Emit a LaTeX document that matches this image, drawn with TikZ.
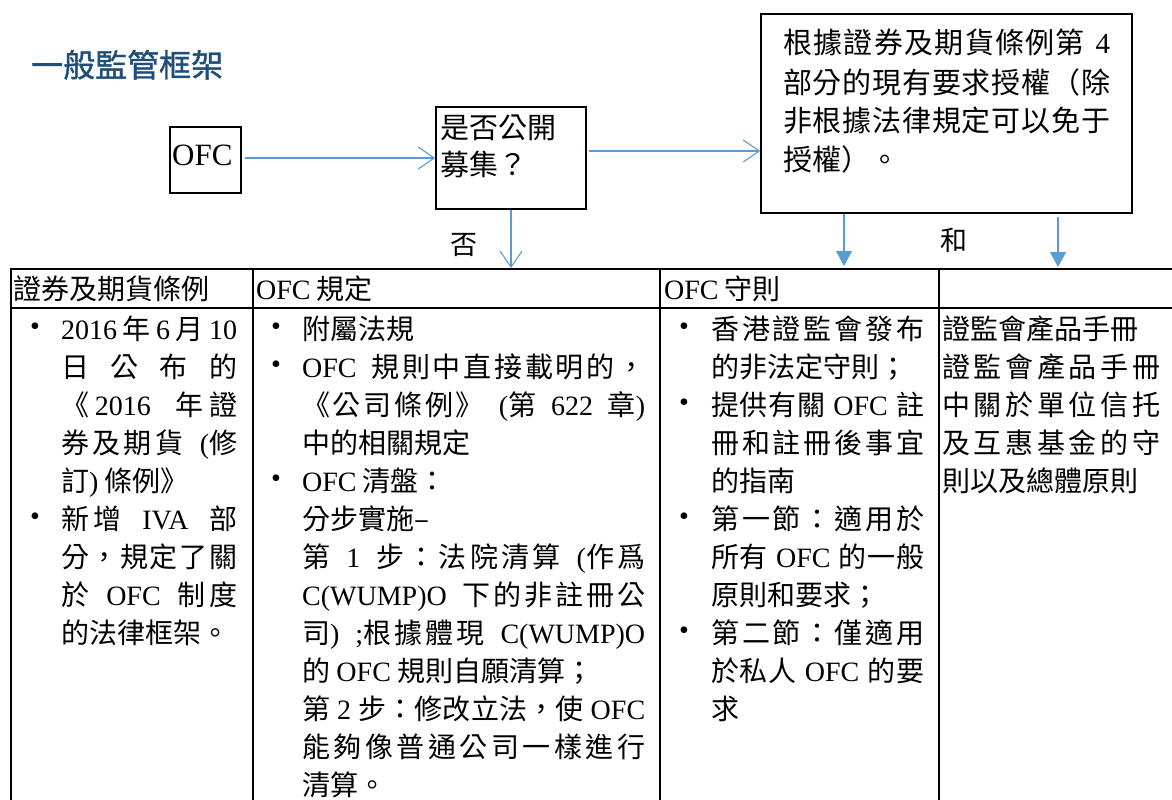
\documentclass[tikz,border=0pt]{standalone}
\usepackage{fontspec}
\setmainfont{Noto Sans CJK TC}
\newfontfamily\tmfont{Liberation Serif}
\newfontfamily\titlefont[FakeBold=1.2]{Noto Sans CJK TC}
\newcommand\tm[1]{{\tmfont #1}}
\usetikzlibrary{arrows.meta}
\XeTeXinterchartokenstate=1
\newXeTeXintercharclass\CJKcls
\makeatletter
\def\setcjkrange#1#2{\count@=#1\relax\loop\XeTeXcharclass\count@=\CJKcls\relax\ifnum\count@<#2\relax\advance\count@ by 1\repeat}
\makeatother
\setcjkrange{"3000}{"303F}
\setcjkrange{"4E00}{"9FFF}
\setcjkrange{"FF00}{"FFEF}
\XeTeXinterchartoks\CJKcls\CJKcls={\hskip 0pt plus 1pt\relax}
\newcommand\sg{\hskip 0pt plus 1pt\relax}
\definecolor{titleblue}{HTML}{1F4E79}
\definecolor{arrowblue}{HTML}{5B9BD5}
\tikzset{
  box/.style={draw, line width=1.6pt, inner sep=0pt},
  txt/.style={anchor=base west, inner sep=0pt, font=\fontsize{28}{34}\selectfont},
  bul/.style={anchor=center, inner sep=0pt, font=\fontsize{28}{34}\selectfont},
  arr/.style={draw=arrowblue, line width=1.3pt},
  openarr/.style={arr, -{Straight Barb[length=16pt,width=22pt,line width=1.1pt]}},
  fillarr/.style={arr, -{Triangle[length=15pt,width=16pt]}},
  gridline/.style={line width=1.8pt},
}
\newcommand\Jl[5]{\node[txt] (#1) at (#2,#3) {\makebox[#4][s]{#5}};}
\newcommand\Nl[4]{\node[txt] (#1) at (#2,#3) {#4};}
\newcommand\Bul[3]{\node[bul] (#1) at (#2,#3) {\tm{•}};}
\begin{document}
\begin{tikzpicture}[x=1pt,y=-1pt]
\useasboundingbox (0,0) rectangle (1172,800);
% title
\node[anchor=base west, inner sep=0pt, font=\titlefont\fontsize{32}{36}\selectfont, text=titleblue] (title) at (31,77) {一般監管框架};
% boxes
\node[box, minimum width=71pt, minimum height=66pt] (ofc) at (205.5,160) {};
\node[anchor=base west, inner sep=0pt, font=\tmfont\fontsize{31}{34}\selectfont] (ofct) at (172,165) {OFC};
\node[box, minimum width=150pt, minimum height=102pt] (pub) at (511,158) {};
\node[txt, font=\fontsize{29}{34}\selectfont] (pub1) at (440,138) {是否公開};
\node[txt, font=\fontsize{29}{34}\selectfont] (pub2) at (440,175) {募集？};
\node[box, minimum width=371pt, minimum height=199pt] (auth) at (946.5,113.5) {};
\begin{scope}[txt/.append style={font=\fontsize{29}{34}\selectfont}]
\Jl{au1}{783}{54}{327pt}{根據證券及期貨條例第 \tm{4}}
\Jl{au2}{783}{93}{327pt}{部分的現有要求授權（除}
\Jl{au3}{783}{131}{327pt}{非根據法律規定可以免于}
\Nl{au4}{783}{170}{授權）。}
\end{scope}
% labels
\node[txt, font=\fontsize{27}{32}\selectfont] (no) at (450,254) {否};
\node[txt, font=\fontsize{27}{32}\selectfont] (and) at (940,250) {和};
% coordinates
\coordinate (y158) at (0,158);
\coordinate (y151) at (0,151);
\coordinate (tabtop) at (0,268);
\coordinate (a1) at (844,266);
\coordinate (a2) at (1058,267);
% connectors
\draw[openarr, shorten <=3pt] (ofc.east |- y158) -- (pub.west |- y158);
\draw[openarr, shorten <=2pt] (pub.east |- y151) -- (auth.west |- y151);
\draw[openarr] (pub.south) -- (pub.south |- tabtop);
\draw[fillarr] (auth.south -| a1) -- (a1);
\draw[fillarr, shorten <=3pt] (auth.south -| a2) -- (a2);
% table grid
\draw[gridline] (11,800) -- (11,269) -- (1172,269);
\draw[gridline] (11,308) -- (1172,308);
\draw[gridline] (253,269) -- (253,800);
\draw[gridline] (660,269) -- (660,800);
\draw[gridline] (939,269) -- (939,800);
% headers
\Nl{h1}{13}{299}{證券及期貨條例}
\Nl{h2}{256}{299}{\tm{OFC} 規定}
\Nl{h3}{664}{299}{\tm{OFC} 守則}
% column 1
\Bul{b11}{35}{329}
\Jl{c1a}{61}{339}{176pt}{\tm{2016}\sg 年\sg\tm{6}\sg 月\sg\tm{10}}
\Jl{c1b}{61}{377}{176pt}{日 公 布 的}
\Jl{c1c}{61}{415}{176pt}{《\sg\tm{2016} 年證}
\Jl{c1d}{61}{453}{176pt}{券及期貨 \tm{(}修}
\Nl{c1e}{61}{491}{訂\tm{)} 條例》}
\Bul{b12}{35}{519}
\Jl{c1f}{61}{529}{176pt}{新增 \tm{IVA} 部}
\Jl{c1g}{61}{567}{176pt}{分，規定了關}
\Jl{c1h}{61}{605}{176pt}{於 \tm{OFC} 制度}
\Nl{c1i}{61}{643}{的法律框架。}
% column 2
\Bul{b21}{276}{329}
\Nl{c2a}{302}{339}{附屬法規}
\Bul{b22}{276}{367}
\Jl{c2b}{302}{377}{343pt}{\tm{OFC} 規則中直接載明的，}
\Jl{c2c}{302}{415}{343pt}{《公司條例》 \tm{(}第 \tm{622} 章\tm{)}}
\Nl{c2d}{302}{453}{中的相關規定}
\Bul{b23}{276}{481}
\Nl{c2e}{302}{491}{\tm{OFC} 清盤：}
\Nl{c2f}{302}{529}{分步實施–}
\Jl{c2g}{302}{567}{343pt}{第 \tm{1} 步：法院清算 \tm{(}作爲}
\Jl{c2h}{302}{605}{343pt}{\tm{C(WUMP)O} 下的非註冊公}
\Jl{c2i}{302}{643}{343pt}{司\tm{)} \tm{;}根據體現 \tm{C(WUMP)O}}
\Nl{c2j}{302}{681}{的 \tm{OFC} 規則自願清算；}
\Jl{c2k}{302}{719}{343pt}{第 \tm{2} 步：修改立法，使 \tm{OFC}}
\Jl{c2l}{302}{757}{343pt}{能夠像普通公司一樣進行}
\Nl{c2m}{302}{795}{清算。}
% column 3
\Bul{b31}{684}{329}
\Jl{c3a}{711}{339}{213pt}{香港證監會發布}
\Nl{c3b}{711}{377}{的非法定守則；}
\Bul{b32}{684}{405}
\Jl{c3c}{711}{415}{213pt}{提供有關 \tm{OFC} 註}
\Jl{c3d}{711}{453}{213pt}{冊和註冊後事宜}
\Nl{c3e}{711}{491}{的指南}
\Bul{b33}{684}{519}
\Jl{c3f}{711}{529}{213pt}{第一節：適用於}
\Jl{c3g}{711}{567}{213pt}{所有 \tm{OFC} 的一般}
\Nl{c3h}{711}{605}{原則和要求；}
\Bul{b34}{684}{633}
\Jl{c3i}{711}{643}{213pt}{第二節：僅適用}
\Jl{c3j}{711}{681}{213pt}{於私人 \tm{OFC} 的要}
\Nl{c3k}{711}{719}{求}
% column 4
\Nl{c4a}{942}{339}{證監會產品手冊}
\Jl{c4b}{942}{377}{218pt}{證監會產品手冊}
\Jl{c4c}{942}{415}{218pt}{中關於單位信托}
\Jl{c4d}{942}{453}{218pt}{及互惠基金的守}
\Nl{c4e}{942}{491}{則以及總體原則}
\end{tikzpicture}
\end{document}
